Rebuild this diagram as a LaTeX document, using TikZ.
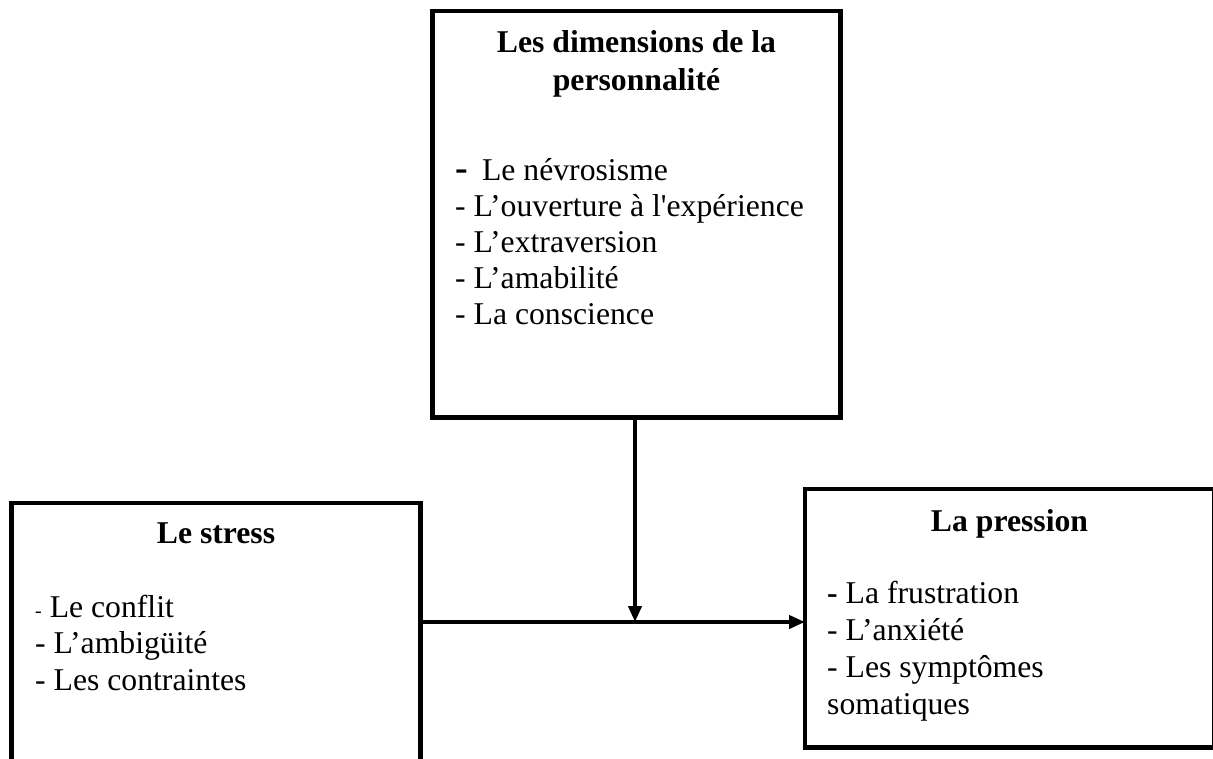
\documentclass[tikz,border=0pt]{standalone}
\usepackage{fontspec}
\newfontfamily\tnr{Liberation Serif}
\usetikzlibrary{arrows.meta}
\begin{document}
\begin{tikzpicture}[x=1pt,y=-1pt,
  box/.style={draw,line width=4.5pt,inner sep=0pt,outer sep=0pt},
  arr/.style={line width=4pt,-{Triangle[length=16pt,width=13pt]}},
  txt/.style={anchor=base west,inner sep=0pt,font=\tnr\fontsize{31.7}{36.5}\selectfont},
  ttl/.style={anchor=base,inner sep=0pt,font=\tnr\bfseries\fontsize{31.7}{36.5}\selectfont}]
\useasboundingbox (0,0) rectangle (1213,758);
\clip (0,0) rectangle (1213,758);
% boxes
\node[box,minimum width=408pt,minimum height=406.5pt] (dim) at (636.5,214.25) {};
\node[box,minimum width=409pt,minimum height=320pt] (stress) at (216,663) {};
\node[box,minimum width=409pt,minimum height=258.5pt] (press) at (1009.5,618.25) {};
% top box text
\node[ttl] (d0) at (636.5,52) {Les dimensions de la};
\node[ttl] (d00) at (636.5,90) {personnalité};
\node[txt] (d1) at (455,180) {{\bfseries\fontsize{38}{38}\selectfont -}\hspace{0.45em}Le névrosisme};
\node[txt] (d2) at (455,216) {- L’ouverture à l'expérience};
\node[txt] (d3) at (455,252) {- L’extraversion};
\node[txt] (d4) at (455,288) {- L’amabilité};
\node[txt] (d5) at (455,324) {- La conscience};
% left box text
\node[ttl] (s0) at (216,543) {Le stress};
\node[txt] (s1) at (35,617) {{\fontsize{20}{20}\selectfont -} Le conflit};
\node[txt] (s2) at (35,653) {- L’ambigüité};
\node[txt] (s3) at (35,690) {- Les contraintes};
% right box text
\node[ttl] (p0) at (1009.5,531) {La pression};
\node[txt] (p1) at (827,603) {\textbf{-} La frustration};
\node[txt] (p2) at (827,640) {- L’anxiété};
\node[txt] (p3) at (827,677) {- Les symptômes};
\node[txt] (p4) at (827,714) {somatiques};
% connectors
\coordinate (j) at (635,622);
\draw[arr] (j |- dim.south) -- (j);
\draw[arr] (stress.east |- j) -- (press.west |- j);
\end{tikzpicture}
\end{document}
